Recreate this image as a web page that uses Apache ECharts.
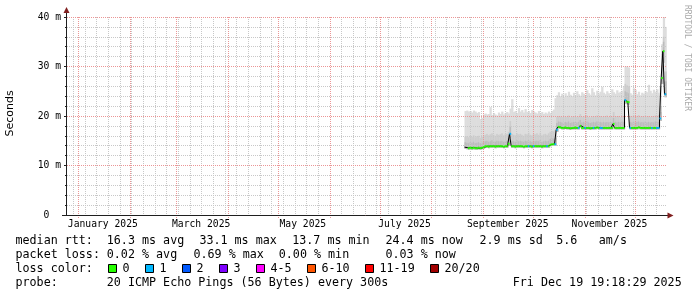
<!DOCTYPE html>
<html><head><meta charset="utf-8">
<script src="https://cdn.jsdelivr.net/npm/echarts@6/dist/echarts.min.js"></script>
<style>html,body{margin:0;padding:0;background:#fff}#c{width:697px;height:297px}</style>
</head><body><div id="c"></div>
<script>
// ---------------- DATA ----------------
const firstSampleDay = '2025-08-21'; // one sample per day from here
const median = [13.7,13.6,13.5,13.6,13.5,13.6,13.5,13.5,13.6,13.5,13.6,13.7,
 13.9,13.9,13.8,13.9,13.9,13.9,13.8,13.9,13.9,13.9,13.9,13.8,13.9,13.9,14.4,
 16.4,
 13.9,13.9,13.8,13.9,13.9,13.9,13.9,13.8,13.9,13.9,13.9,13.9,13.8,13.9,13.9,13.9,13.9,13.9,13.8,13.9,13.9,13.9,13.9,
 14.2,14.3,14.3,14.3,
 17.2,
 17.8,17.7,17.6,17.6,17.7,17.6,17.6,17.5,17.6,17.6,
 17.7,17.6,17.6,18.0,17.6,17.6,17.6,17.6,17.6,17.5,
 17.6,17.6,17.6,17.7,17.6,17.6,17.6,17.6,17.6,17.6,
 17.6,17.6,17.6,18.4,17.6,17.6,17.6,17.6,17.6,17.6,
 23.2,22.9,22.8,
 17.6,17.6,17.6,17.6,17.6,17.7,17.6,17.6,17.6,17.6,
 17.6,17.6,17.6,17.6,17.6,17.6,17.6,17.6,
 19.5,27.7,33.1,24.4];
// lost pings per sample (null = unknown)
const lost = [null,null,0,0,0,0,0,0,0,0,0,0,
 0,0,0,0,0,0,0,0,0,0,0,0,0,0,0,
 1,
 0,0,0,0,0,0,0,0,0,0,1,0,0,1,0,0,0,0,0,0,0,1,0,
 0,0,0,1,
 1,
 0,0,0,0,0,0,0,0,0,0,
 0,0,1,0,0,0,1,0,0,0,
 0,1,0,0,0,1,1,0,0,0,
 0,0,0,0,0,0,0,0,0,0,
 1,0,0,
 1,0,0,0,0,0,0,0,0,0,
 0,0,0,1,0,0,1,1,
 1,0,0,1];
const smokeMin = [13.4,13.3,13.2,13.3,13.2,13.3,13.2,13.2,13.3,13.2,13.3,13.4,
 13.6,13.6,13.5,13.6,13.6,13.6,13.5,13.6,13.6,13.6,13.6,13.5,13.6,13.6,14.0,
 15.6,
 13.6,13.6,13.5,13.6,13.6,13.6,13.6,13.5,13.6,13.6,13.6,13.6,13.5,13.6,13.6,13.6,13.6,13.6,13.5,13.6,13.6,13.6,13.6,
 13.9,14.0,14.0,14.0,
 16.8,
 17.5,17.4,17.3,17.3,17.4,17.3,17.3,17.2,17.3,17.3,
 17.4,17.3,17.3,17.6,17.3,17.3,17.3,17.3,17.3,17.2,
 17.3,17.3,17.3,17.4,17.3,17.3,17.3,17.3,17.3,17.3,
 17.3,17.3,17.3,17.9,17.3,17.3,17.3,17.3,17.3,17.3,
 22.5,22.4,22.3,
 17.3,17.3,17.3,17.3,17.3,17.4,17.3,17.3,17.3,17.3,
 17.3,17.3,17.3,17.3,17.3,17.3,17.3,17.3,
 19.0,26.5,30.8,23.8];
const smokeInner = [14.7,14.6,14.5,14.7,14.6,14.8,14.5,14.6,14.7,14.5,14.6,14.8,
 14.9,15.0,14.8,14.9,15.1,14.9,14.8,15.0,14.9,14.9,15.0,14.8,14.9,15.0,15.6,
 17.8,
 15.0,14.9,14.8,15.1,14.9,15.0,14.9,14.8,15.0,14.9,15.1,14.9,14.8,15.0,14.9,15.0,14.9,15.1,14.8,14.9,15.0,14.9,15.0,
 15.4,15.5,15.4,15.6,
 18.6,
 18.9,18.8,18.7,18.6,18.8,18.7,18.9,18.6,18.7,18.8,
 18.8,18.7,18.8,19.2,18.7,18.8,18.7,18.9,18.7,18.6,
 18.7,18.8,18.7,18.9,18.7,18.8,18.7,18.8,18.7,18.8,
 18.7,18.8,18.7,19.6,18.8,18.7,18.8,18.7,18.9,18.8,
 25.0,24.8,24.6,
 18.8,18.7,18.9,18.7,18.8,18.9,18.7,18.8,18.7,18.9,
 18.7,18.8,18.7,18.8,18.7,18.9,18.8,18.8,
 20.8,30.2,35.0,27.0];
const smokeMid = [15.8,15.9,15.7,16.0,15.8,16.1,15.7,15.9,16.0,15.6,15.8,16.0,
 16.2,16.4,16.1,16.3,16.5,16.2,16.0,16.4,16.2,16.3,16.5,16.1,16.3,16.4,16.8,
 19.0,
 16.4,16.2,16.1,16.5,16.3,16.4,16.2,16.0,16.4,16.3,16.6,16.2,16.1,16.4,16.3,16.5,16.2,16.6,16.1,16.3,16.4,16.2,16.5,
 16.8,17.0,16.9,17.2,
 19.8,
 20.0,19.9,19.8,19.7,20.0,19.8,20.1,19.7,19.9,20.0,
 20.0,19.8,19.9,20.4,19.8,20.0,19.9,20.1,19.8,19.7,
 19.9,20.0,19.8,20.1,19.9,20.0,19.8,20.0,19.9,20.1,
 19.8,20.0,19.9,20.8,20.0,19.9,20.0,19.8,20.1,20.0,
 26.5,26.2,26.0,
 20.0,19.9,20.1,19.9,20.0,20.2,19.9,20.0,19.8,20.1,
 19.9,20.0,19.8,20.0,19.9,20.1,20.0,20.2,
 22.0,32.5,36.0,29.0];
const smokeMax = [21.0,21.1,20.9,21.0,20.7,21.1,20.9,20.6,20.8,19.4,19.6,20.3,
 20.5,20.3,20.4,21.8,20.2,20.6,20.3,20.1,20.7,20.4,20.9,20.3,20.6,20.8,20.5,
 21.5,
 23.4,20.8,21.0,20.6,21.6,20.9,21.2,20.7,21.4,20.8,21.0,20.6,21.2,20.9,20.7,20.5,21.0,20.6,20.8,20.4,20.7,20.5,20.9,
 20.6,21.0,21.3,23.6,
 24.2,
 24.8,24.0,24.5,23.8,24.6,24.1,24.9,24.3,24.0,24.7,
 24.2,25.0,24.4,24.1,24.8,24.5,24.0,25.2,24.6,24.3,
 25.6,24.8,24.2,25.1,24.5,24.9,25.9,24.7,24.4,25.0,
 24.6,24.2,25.4,24.8,24.5,25.2,24.7,24.9,25.1,26.0,
 30.0,30.0,29.8,
 24.6,24.3,25.6,25.3,24.4,24.9,24.2,24.7,24.5,25.0,
 24.8,26.3,25.1,24.6,25.3,24.9,25.4,24.7,
 26.0,34.5,40.0,38.0];

const monthStarts = ['2025-01-01','2025-02-01','2025-03-01','2025-04-01','2025-05-01','2025-06-01',
  '2025-07-01','2025-08-01','2025-09-01','2025-10-01','2025-11-01','2025-12-01'];
const firstWeekLine = '2024-12-29';
const xLabelDates = ['2025-01-16','2025-03-16','2025-05-16','2025-07-16','2025-09-16','2025-11-16'];
const xLabelNames = ['January 2025','March 2025','May 2025','July 2025','September 2025','November 2025'];
const yTicks = [0,10,20,30,40];
const yTickLabels = ['0  ','10 m','20 m','30 m','40 m'];

const rttStats = ['16.3 ms avg','33.1 ms max','13.7 ms min','24.4 ms now','2.9 ms sd','5.6','am/s'];
const lossStats = ['0.02 % avg','0.69 % max','0.00 % min','0.03 % now'];
const lossLabels = ['0','1','2','3','4-5','6-10','11-19','20/20'];
const lossColors = ['#26ff00','#00b8ff','#0059ff','#7e00ff','#ff00ff','#ff5500','#ff0000','#a10000'];
const probeText = '20 ICMP Echo Pings (56 Bytes) every 300s';
const stampText = 'Fri Dec 19 19:18:29 2025';

// ---------------- BUILD ----------------
const DAY = 86400000;
const utc = s => Date.parse(s + 'T00:00:00Z');
const t0 = utc(firstSampleDay);
const times = median.map((_, i) => t0 + i * DAY);
const X_MIN = Date.UTC(2024, 11, 25, 12), X_MAX = X_MIN + 360 * DAY;
const GRID = '#c8c8c8';
const MGRID = '#eb9696';
const MONO = '"DejaVu Sans Mono", monospace';

const lossBucket = n => n === 0 ? 0 : n === 1 ? 1 : n === 2 ? 2 : n === 3 ? 3 : n <= 5 ? 4 : n <= 10 ? 5 : n <= 19 ? 6 : 7;

const vLines = monthStarts.map(s => [utc(s), 1]);
for (let t = utc(firstWeekLine); t < X_MAX; t += 7 * DAY) vLines.push([t, 0]);
vLines.sort((a, b) => a[1] - b[1]);

const chart = echarts.init(document.getElementById('c'), null, {renderer: 'canvas', width: 697, height: 297});
const GL = 67, GT = 17, GW = 600, GH = 198;

const legendGraphics = [];
function txt(x, y, s) {
  legendGraphics.push({type: 'text', x: x, y: y, silent: true,
    style: {text: s, font: '11.7px ' + MONO, fill: '#000', align: 'left', verticalAlign: 'middle'}});
}
const rowY = [241, 255, 269, 283];
txt(15.5, rowY[0], 'median rtt:');
[106.8, 199.4, 292.2, 385.5, 479.5, 556.2, 598.8].forEach((x, i) => txt(x, rowY[0], rttStats[i]));
txt(15.5, rowY[1], 'packet loss:');
[106.8, 193.5, 278.8, 385.5].forEach((x, i) => txt(x, rowY[1], lossStats[i]));
txt(15.5, rowY[2], 'loss color:');
{
  let x = 108;
  const cw = 7.05;
  lossLabels.forEach((lab, i) => {
    legendGraphics.push({type: 'rect', silent: true, shape: {x: x + 0.5, y: 264.5, width: 8, height: 8},
      style: {fill: lossColors[i], stroke: '#000', lineWidth: 1}});
    txt(x + 14.5, rowY[2], lab);
    x = x + 15 + lab.length * cw + 15;
    x = Math.round(x);
  });
}
txt(15.5, rowY[3], 'probe:');
txt(106.8, rowY[3], probeText);
txt(512.8, rowY[3], stampText);

// axes lines + arrows
legendGraphics.push({type: 'line', silent: true, z: 10, shape: {x1: 62, y1: GT + GH + 0.5, x2: 669, y2: GT + GH + 0.5}, style: {stroke: '#1f1f1f', lineWidth: 1}});
legendGraphics.push({type: 'line', silent: true, z: 10, shape: {x1: GL - 0.5, y1: GT + GH + 1, x2: GL - 0.5, y2: 11}, style: {stroke: '#1f1f1f', lineWidth: 1}});
legendGraphics.push({type: 'polygon', silent: true, z: 10, shape: {points: [[GL - 0.5, 7], [GL - 3.5, 13], [GL + 2.5, 13]]}, style: {fill: '#801f1f'}});
legendGraphics.push({type: 'polygon', silent: true, z: 10, shape: {points: [[673.5, GT + GH + 0.5], [667.5, GT + GH - 2.5], [667.5, GT + GH + 3.5]]}, style: {fill: '#801f1f'}});
// titles
legendGraphics.push({type: 'text', x: 10, y: 113.5, rotation: Math.PI / 2, silent: true,
  style: {text: 'Seconds', font: '11px "DejaVu Sans", sans-serif', fill: '#000', align: 'center', verticalAlign: 'middle'}});
legendGraphics.push({type: 'text', x: 687, y: 5, rotation: -Math.PI / 2, silent: true,
  style: {text: 'RRDTOOL / TOBI OETIKER', font: '8px ' + MONO, fill: '#aaaaaa', align: 'left', verticalAlign: 'middle'}});

const lineData = times.map((t, i) => [t, median[i]]);
lineData.push([times[times.length - 1] + DAY, median[median.length - 1]]);
const segData = [];
times.forEach((t, i) => { if (lost[i] !== null) segData.push([t, median[i], lossBucket(lost[i])]); });

chart.setOption({
  animation: false,
  backgroundColor: '#ffffff',
  grid: {left: GL, top: GT, width: GW, height: GH, show: false},
  xAxis: {type: 'value', min: X_MIN, max: X_MAX, z: 3,
    axisLine: {show: false}, axisTick: {show: false}, splitLine: {show: false},
    axisLabel: {customValues: xLabelDates.map(utc), fontFamily: MONO, fontSize: 9.7, color: '#000', margin: 4,
      formatter: v => xLabelNames[xLabelDates.map(utc).indexOf(v)] || ''}},
  yAxis: {type: 'value', min: 0, max: 40, interval: 10, z: 3,
    axisLine: {show: false},
    axisTick: {show: true, length: 3, lineStyle: {color: '#1f1f1f'}},
    minorTick: {show: true, splitNumber: 5, length: 2, lineStyle: {color: '#1f1f1f'}},
    axisLabel: {fontFamily: MONO, fontSize: 9.7, color: '#000', margin: 6,
      formatter: v => yTickLabels[yTicks.indexOf(v)]},
    splitLine: {show: true, lineStyle: {color: MGRID, type: [1, 1], width: 1}},
    minorSplitLine: {show: true, lineStyle: {color: GRID, type: [1, 1], width: 1}}},
  graphic: legendGraphics,
  series: [
    {type: 'custom', name: 'smoke', z: 1, silent: true, clip: true,
      data: times.map((t, i) => [t, smokeMin[i], smokeInner[i], smokeMid[i], smokeMax[i]]),
      encode: {x: 0, y: [1, 4]},
      renderItem: (params, api) => {
        const t = api.value(0);
        const xa = api.coord([t, 0])[0], xb = api.coord([t + DAY, 0])[0];
        const band = (lo, hi, color) => {
          const ya = api.coord([t, lo])[1], yb = api.coord([t, hi])[1];
          return {type: 'rect', shape: {x: xa, y: yb, width: xb - xa + 0.6, height: ya - yb}, style: {fill: color}};
        };
        return {type: 'group', children: [
          band(api.value(1), api.value(4), '#dddddd'),
          band(api.value(1), api.value(3), '#cdcdcd'),
          band(api.value(1), api.value(2), '#bcbcbc')]};
      }},
    {type: 'custom', name: 'vgrid', z: 2, silent: true, clip: false,
      data: vLines,
      renderItem: (params, api) => {
        const t = api.value(0), major = api.value(1) === 1;
        const x = Math.round(api.coord([t, 0])[0]) + 0.5;
        return {type: 'line', shape: {x1: x, y1: GT, x2: x, y2: GT + GH + (major ? 3 : 2)},
          style: {stroke: major ? MGRID : GRID, lineWidth: 1, lineDash: [1, 1]}};
      }},
    {type: 'line', name: 'median', z: 4, step: 'end', symbol: 'none', silent: true,
      data: lineData, lineStyle: {color: '#000', width: 1}},
    {type: 'custom', name: 'loss', z: 5, silent: true,
      data: segData,
      renderItem: (params, api) => {
        const t = api.value(0);
        const p0 = api.coord([t, api.value(1)]), p1 = api.coord([t + DAY, api.value(1)]);
        return {type: 'rect', shape: {x: p0[0], y: p0[1] - 1, width: p1[0] - p0[0], height: 2},
          style: {fill: lossColors[api.value(2)]}};
      }}
  ]
});
</script>
</body></html>
